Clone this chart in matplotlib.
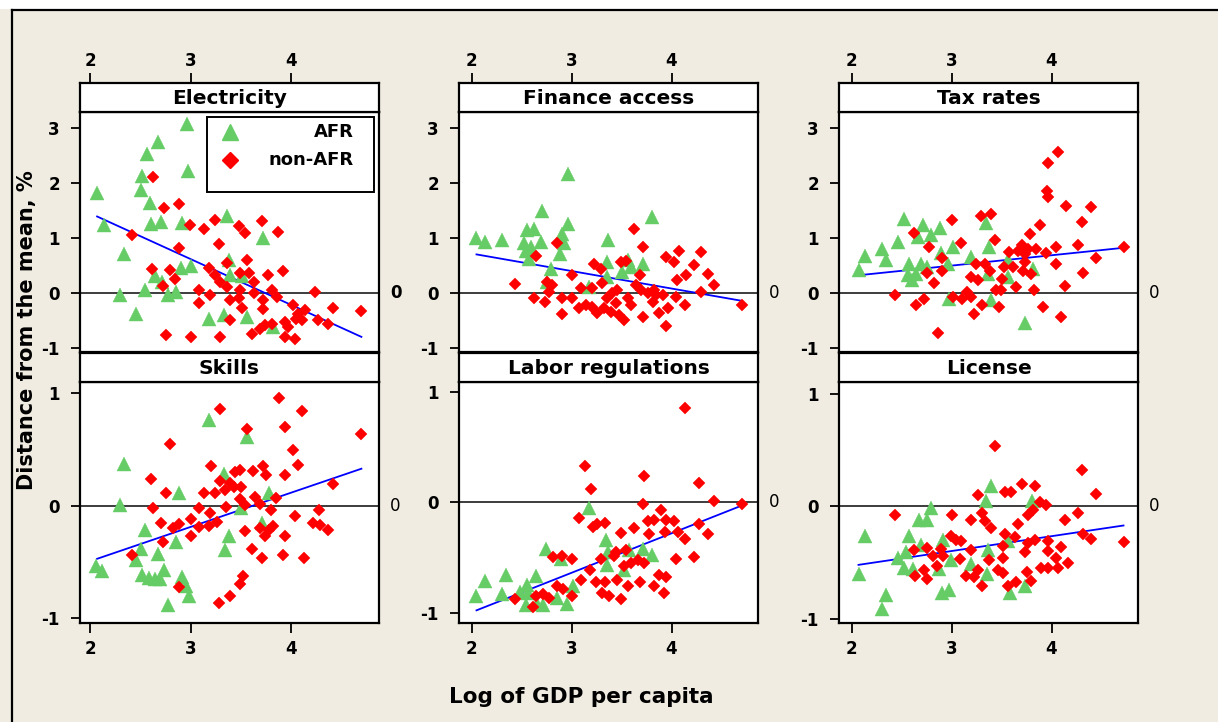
import matplotlib
matplotlib.use("Agg")
import matplotlib.pyplot as plt
from matplotlib.patches import Rectangle
from matplotlib.lines import Line2D

# ---------------- data ----------------
panel_titles = ["Electricity", "Finance access", "Tax rates",
                "Skills", "Labor regulations", "License"]
series_labels = ["AFR", "non-AFR"]
x_ticks = [2, 3, 4]
y_ticks_row1 = [-1, 0, 1, 2, 3]
y_ticks_row2 = [-1, 0, 1]
x_label = "Log of GDP per capita"
y_label = "Distance from the mean, %"

elec_afr = [(2.07,1.82),(2.14,1.25),(2.34,0.71),(2.30,-0.02),(2.46,-0.37),(2.51,1.88),(2.52,2.13),
            (2.57,2.54),(2.68,2.75),(2.60,1.64),(2.61,1.27),(2.71,1.30),(2.55,0.06),(2.65,0.32),
            (2.72,0.20),(2.78,-0.03),(2.86,0.02),(2.90,0.46),(2.91,1.28),(2.96,3.08),(2.97,2.23),
            (3.00,0.50),(3.18,-0.46),(3.33,-0.40),(3.36,1.40),(3.38,0.61),(3.39,0.34),(3.51,0.31),
            (3.56,-0.43),(3.72,1.01),(3.82,-0.61)]
elec_non = [(2.63,2.11),(2.42,1.07),(2.74,1.55),(2.89,1.62),(2.89,0.82),(2.99,1.24),(3.13,1.17),
            (3.24,1.34),(3.28,0.90),(3.36,0.56),(3.48,1.22),(3.54,1.10),(3.71,1.31),(3.87,1.11),
            (2.62,0.44),(2.80,0.43),(2.85,0.27),(2.73,0.14),(2.76,-0.76),(3.00,-0.79),(3.29,-0.79),
            (3.08,0.06),(3.08,-0.18),(3.19,-0.03),(3.18,0.46),(3.24,0.34),(3.29,0.21),(3.36,0.12),
            (3.39,-0.12),(3.49,0.06),(3.48,-0.09),(3.51,-0.27),(3.56,0.61),(3.58,0.37),(3.49,0.37),
            (3.63,0.21),(3.63,0.00),(3.39,-0.49),(3.61,-0.73),(3.69,-0.64),(3.74,-0.58),(3.81,-0.55),
            (3.72,-0.12),(3.72,-0.29),(3.77,0.34),(3.81,0.06),(3.86,-0.06),(3.92,0.40),(3.94,-0.52),
            (3.94,-0.79),(4.04,-0.82),(4.02,-0.21),(4.07,-0.37),(4.11,-0.49),(4.14,-0.31),(4.24,0.03),
            (4.27,-0.49),(4.37,-0.55),(4.42,-0.27),(4.70,-0.32),(3.97,-0.61),(4.05,-0.46)]
elec_fit = [(2.07,1.40),(4.70,-0.79)]

fin_afr = [(2.04,1.01),(2.13,0.94),(2.30,0.97),(2.52,0.92),(2.55,1.15),(2.62,1.18),(2.59,0.84),
           (2.69,0.94),(2.54,0.78),(2.57,0.63),(2.70,1.50),(2.79,0.45),(2.90,1.09),(2.88,0.72),
           (2.96,1.27),(2.96,2.17),(2.92,0.92),(2.75,0.21),(3.17,0.12),(3.36,0.97),(3.35,0.57),
           (3.35,0.30),(3.50,0.39),(3.59,0.48),(3.71,0.54),(3.80,1.39),(3.56,0.60)]
fin_non = [(2.43,0.17),(2.64,0.68),(2.85,0.91),(2.62,-0.08),(2.73,-0.15),(2.75,0.21),(2.80,0.15),
           (2.77,0.03),(2.90,-0.08),(2.90,-0.38),(3.00,0.33),(3.00,-0.08),(3.09,0.09),(3.07,-0.27),
           (3.14,-0.21),(3.20,0.09),(3.22,0.53),(3.29,0.45),(3.30,0.19),(3.25,-0.35),(3.20,-0.24),
           (3.32,-0.27),(3.35,-0.09),(3.40,0.00),(3.45,0.06),(3.44,-0.18),(3.39,-0.33),(3.47,-0.39),
           (3.52,-0.48),(3.56,-0.09),(3.59,-0.21),(3.49,0.57),(3.54,0.59),(3.62,1.18),(3.71,0.84),
           (3.68,0.34),(3.64,0.15),(3.69,0.06),(3.76,0.00),(3.81,-0.15),(3.71,-0.43),(3.84,-0.03),
           (3.91,-0.03),(3.87,-0.36),(3.96,-0.27),(3.94,-0.60),(3.94,0.66),(4.02,0.57),(4.07,0.77),
           (4.05,0.24),(4.14,0.33),(4.04,-0.07),(4.13,-0.21),(4.22,0.51),(4.29,0.75),(4.29,0.03),
           (4.36,0.36),(4.42,0.16),(4.70,-0.21),(3.82,0.06)]
fin_fit = [(2.05,0.71),(4.69,-0.13)]

tax_afr = [(2.07,0.43),(2.13,0.69),(2.30,0.80),(2.34,0.60),(2.46,0.94),(2.52,1.36),(2.57,0.54),
           (2.56,0.33),(2.60,0.24),(2.64,0.36),(2.66,1.03),(2.69,0.53),(2.71,1.25),(2.75,0.48),
           (2.79,1.06),(2.88,1.19),(2.89,0.74),(2.96,0.53),(3.01,0.84),(2.97,-0.11),(3.19,0.66),
           (3.34,1.29),(3.37,0.84),(3.36,0.36),(3.39,-0.12),(3.56,0.60),(3.73,-0.53),(3.81,0.45),
           (3.56,0.30)]
tax_non = [(2.43,-0.03),(2.62,1.10),(2.64,-0.21),(2.72,-0.11),(2.75,0.37),(2.77,0.84),(2.82,0.19),
           (2.86,-0.72),(2.90,0.65),(2.90,0.41),(3.00,1.33),(3.01,-0.07),(3.09,0.92),(3.10,-0.11),
           (3.15,0.03),(3.19,-0.07),(3.22,-0.37),(3.19,0.30),(3.26,0.24),(3.24,0.53),(3.29,1.40),
           (3.39,1.44),(3.30,-0.21),(3.33,0.54),(3.38,0.41),(3.43,0.98),(3.47,-0.25),(3.44,0.06),
           (3.49,0.06),(3.50,0.27),(3.52,0.48),(3.57,0.75),(3.61,0.48),(3.64,0.12),(3.70,0.88),
           (3.73,0.57),(3.71,0.41),(3.78,1.09),(3.76,0.81),(3.79,0.36),(3.82,0.07),(3.88,1.25),
           (3.84,0.81),(3.94,0.74),(3.91,-0.25),(3.96,2.38),(4.06,2.58),(3.95,1.86),(3.96,1.76),
           (4.04,0.84),(4.04,0.53),(4.09,-0.42),(4.14,1.59),(4.13,0.13),(4.26,0.88),(4.30,1.30),
           (4.31,0.37),(4.39,1.57),(4.44,0.65),(4.72,0.84),(3.66,0.77),(3.73,0.72)]
tax_fit = [(2.12,0.34),(4.72,0.83)]

skill_afr = [(2.06,-0.53),(2.12,-0.58),(2.34,0.37),(2.30,0.01),(2.46,-0.48),(2.51,-0.38),(2.55,-0.21),
             (2.52,-0.61),(2.59,-0.64),(2.65,-0.65),(2.70,-0.65),(2.74,-0.57),(2.68,-0.43),(2.78,-0.88),
             (2.86,-0.32),(2.89,0.11),(2.91,-0.63),(2.95,-0.71),(2.98,-0.80),(3.18,0.76),(3.33,0.28),
             (3.38,-0.27),(3.34,-0.39),(3.56,0.61),(3.50,-0.02),(3.71,-0.15),(3.78,0.11)]
skill_non = [(2.42,-0.44),(2.61,0.24),(2.63,-0.02),(2.71,-0.15),(2.73,-0.32),(2.76,0.11),(2.80,0.55),
             (2.83,-0.20),(2.89,-0.16),(2.89,-0.72),(3.00,-0.12),(3.00,-0.27),(3.08,-0.02),(3.08,-0.19),
             (3.13,0.11),(3.19,-0.06),(3.18,-0.18),(3.24,0.11),(3.26,-0.14),(3.29,0.86),(3.20,0.35),
             (3.29,0.22),(3.35,-0.01),(3.34,0.14),(3.39,0.20),(3.44,0.30),(3.43,0.17),(3.49,0.32),
             (3.50,0.17),(3.49,0.06),(3.54,0.01),(3.56,0.68),(3.54,-0.22),(3.52,-0.62),(3.49,-0.69),
             (3.39,-0.80),(3.28,-0.86),(3.61,-0.38),(3.62,0.31),(3.64,0.08),(3.69,0.02),(3.72,0.35),
             (3.75,0.27),(3.69,-0.20),(3.74,-0.27),(3.78,-0.21),(3.80,-0.04),(3.71,-0.46),(3.85,0.07),
             (3.88,0.96),(3.94,0.70),(3.94,0.27),(3.94,-0.27),(3.92,-0.44),(4.02,0.50),(4.07,0.36),
             (4.11,0.84),(4.04,-0.09),(4.13,-0.46),(4.22,-0.15),(4.28,-0.04),(4.29,-0.17),(4.37,-0.21),
             (4.42,0.19),(4.70,0.64),(3.82,-0.18)]
skill_fit = [(2.07,-0.47),(4.70,0.33)]

labor_afr = [(2.04,-0.85),(2.13,-0.71),(2.30,-0.83),(2.34,-0.66),(2.48,-0.81),(2.55,-0.75),(2.56,-0.82),
             (2.64,-0.67),(2.54,-0.93),(2.65,-0.92),(2.71,-0.93),(2.74,-0.42),(2.89,-0.51),(2.85,-0.87),
             (2.95,-0.92),(3.01,-0.76),(3.17,-0.05),(3.34,-0.34),(3.36,-0.45),(3.35,-0.57),(3.57,-0.43),
             (3.71,-0.42),(3.80,-0.48),(3.52,-0.61)]
labor_non = [(2.43,-0.88),(2.61,-0.95),(2.64,-0.85),(2.71,-0.83),(2.77,-0.87),(2.81,-0.50),(2.90,-0.49),
             (3.00,-0.51),(2.85,-0.76),(2.91,-0.79),(3.00,-0.85),(3.09,-0.70),(3.07,-0.14),(3.13,0.33),
             (3.19,0.12),(3.21,-0.22),(3.25,-0.20),(3.33,-0.19),(3.18,-0.61),(3.24,-0.72),(3.30,-0.82),
             (3.37,-0.85),(3.33,-0.72),(3.29,-0.51),(3.42,-0.49),(3.44,-0.45),(3.49,-0.88),(3.45,-0.70),
             (3.49,-0.28),(3.54,-0.43),(3.56,-0.76),(3.52,-0.58),(3.59,-0.55),(3.62,-0.23),(3.66,-0.52),
             (3.68,-0.72),(3.72,-0.55),(3.71,-0.01),(3.72,0.24),(3.76,-0.17),(3.77,-0.29),(3.82,-0.16),
             (3.82,-0.76),(3.87,-0.66),(3.92,-0.82),(3.89,-0.07),(3.94,-0.16),(3.94,-0.68),(3.93,-0.27),
             (4.02,-0.17),(4.06,-0.27),(4.13,-0.33),(4.04,-0.51),(4.13,0.86),(4.22,-0.50),(4.27,0.18),
             (4.27,-0.20),(4.36,-0.29),(4.42,0.01),(4.70,-0.01)]
labor_fit = [(2.05,-0.98),(4.67,-0.04)]

lic_afr = [(2.07,-0.60),(2.13,-0.26),(2.34,-0.79),(2.30,-0.91),(2.46,-0.46),(2.52,-0.55),(2.54,-0.41),
           (2.57,-0.26),(2.61,-0.56),(2.67,-0.12),(2.69,-0.34),(2.75,-0.12),(2.79,-0.01),(2.87,-0.56),
           (2.90,-0.77),(2.97,-0.74),(2.91,-0.30),(2.99,-0.48),(3.19,-0.51),(3.34,0.05),(3.39,0.18),
           (3.36,-0.39),(3.35,-0.60),(3.58,-0.77),(3.56,-0.31),(3.73,-0.71),(3.80,0.05)]
lic_non = [(2.43,-0.08),(2.62,-0.39),(2.63,-0.62),(2.72,-0.57),(2.75,-0.65),(2.75,-0.37),(2.81,-0.44),
           (2.85,-0.53),(2.89,-0.38),(2.91,-0.44),(3.00,-0.08),(2.99,-0.26),(3.04,-0.30),(3.09,-0.31),
           (3.08,-0.47),(3.14,-0.62),(3.22,-0.63),(3.26,-0.57),(3.19,-0.39),(3.19,-0.12),(3.26,0.10),
           (3.30,-0.06),(3.33,-0.13),(3.39,-0.19),(3.30,-0.71),(3.37,-0.48),(3.43,0.54),(3.46,-0.57),
           (3.51,-0.59),(3.51,-0.46),(3.51,-0.35),(3.53,-0.25),(3.53,0.13),(3.59,0.13),(3.63,-0.27),
           (3.66,-0.16),(3.56,-0.71),(3.64,-0.67),(3.70,0.20),(3.73,-0.41),(3.75,-0.58),(3.79,-0.66),
           (3.76,-0.33),(3.76,-0.08),(3.81,-0.03),(3.83,0.18),(3.83,-0.30),(3.88,0.04),(3.94,0.01),
           (3.89,-0.55),(3.96,-0.31),(3.96,-0.55),(3.96,-0.40),(4.04,-0.46),(4.06,-0.55),(4.09,-0.36),
           (4.13,-0.12),(4.16,-0.50),(4.26,-0.06),(4.30,0.32),(4.31,-0.25),(4.39,-0.29),(4.44,0.11),
           (4.72,-0.32)]
lic_fit = [(2.07,-0.52),(4.72,-0.17)]

panels_afr = [elec_afr, fin_afr, tax_afr, skill_afr, labor_afr, lic_afr]
panels_non = [elec_non, fin_non, tax_non, skill_non, labor_non, lic_non]
panels_fit = [elec_fit, fin_fit, tax_fit, skill_fit, labor_fit, lic_fit]

# ---------------- styling / layout ----------------
W, H = 1218, 722
BG = "#F0ECE2"
GREEN = "#66CC66"
RED = "#FF0000"
BLUE = "#0000FF"
plt.rcParams["font.family"] = ["DejaVu Sans"]
plt.rcParams["axes.unicode_minus"] = False

fig = plt.figure(figsize=(W / 100, H / 100), dpi=100)
fig.patch.set_facecolor(BG)

def rect(l, t, w, h):
    return [l / W, 1 - (t + h) / H, w / W, h / H]

# white strip at top and outer frame lines
fig.patches.append(Rectangle((0, 1 - 9 / H), 1, 9 / H, transform=fig.transFigure,
                             facecolor="white", edgecolor="none", zorder=0))
fig.add_artist(Line2D([12 / W, 1], [1 - 10 / H, 1 - 10 / H], color="black", lw=1.6,
                      transform=fig.transFigure))
fig.add_artist(Line2D([12 / W, 12 / W], [0, 1 - 10 / H], color="black", lw=1.6,
                      transform=fig.transFigure))

col_left = [80, 459, 839]
col_w = 299
col_xlim = [(1.90, 4.875), (1.875, 4.865), (1.875, 4.865)]
row_header = [(83, 29), (353, 29)]
row_plot = [(112, 240), (382, 241)]
panel_ylim = [(-1.065, 3.30), (-1.065, 3.30), (-1.065, 3.30),
              (-1.04, 1.10), (-1.095, 1.094), (-1.037, 1.106)]

SPW = 1.6
for i in range(6):
    r, c = divmod(i, 3)
    ax = fig.add_axes(rect(col_left[c], row_plot[r][0], col_w, row_plot[r][1]))
    hx = fig.add_axes(rect(col_left[c], row_header[r][0], col_w, row_header[r][1]))
    ax.set_facecolor("white")
    hx.set_facecolor("white")
    for a in (ax, hx):
        for s in a.spines.values():
            s.set_linewidth(SPW)
            s.set_color("black")
        a.set_xlim(*col_xlim[c])

    ax.axhline(0, color="#3C3C3C", lw=1.4, zorder=1)
    fx, fy = zip(*panels_fit[i])
    ax.plot(fx, fy, color=BLUE, lw=1.3, zorder=2)
    gx, gy = zip(*panels_afr[i])
    ax.plot(gx, gy, "^", color=GREEN, ms=9.5, mew=0.3, mec=GREEN, zorder=3,
            label=series_labels[0])
    rx, ry = zip(*panels_non[i])
    ax.plot(rx, ry, "D", color=RED, ms=6.6, mew=0.3, mec=RED, zorder=4,
            label=series_labels[1])
    ax.set_ylim(*panel_ylim[i])
    ax.set_yticks(y_ticks_row1 if r == 0 else y_ticks_row2)
    ax.tick_params(axis="y", direction="out", length=6.5, width=1.3, pad=8,
                   labelsize=12)
    for t in ax.get_yticklabels():
        t.set_fontweight("bold")

    ax.annotate("0", xy=(1, 0), xycoords=("axes fraction", "data"),
                xytext=(8, 0), textcoords="offset points", ha="left", va="center",
                fontsize=12, fontweight="bold" if i == 0 else "normal",
                annotation_clip=False)

    hx.set_ylim(0, 1)
    hx.set_yticks([])
    hx.text(0.5, 0.45, panel_titles[i], transform=hx.transAxes, ha="center",
            va="center", fontsize=14.5, fontweight="bold")
    if r == 0:
        ax.set_xticks([])
        hx.xaxis.tick_top()
        hx.set_xticks(x_ticks)
        hx.tick_params(axis="x", direction="out", length=7.5, width=1.3, pad=2,
                       labelsize=12)
        for t in hx.get_xticklabels():
            t.set_fontweight("bold")
    else:
        hx.set_xticks([])
        ax.set_xticks(x_ticks)
        ax.tick_params(axis="x", direction="out", length=7, width=1.3, pad=5,
                       labelsize=12)
        for t in ax.get_xticklabels():
            t.set_fontweight("bold")

    if i == 0:
        # legend box drawn in axes coordinates
        ax.add_patch(Rectangle((0.425, 0.667), 0.558, 0.312, transform=ax.transAxes,
                               facecolor="white", edgecolor="black", lw=1.4, zorder=5))
        ax.plot([0.502], [0.917], "^", color=GREEN, ms=11, transform=ax.transAxes,
                zorder=6, clip_on=False)
        ax.plot([0.502], [0.80], "D", color=RED, ms=7.8, transform=ax.transAxes,
                zorder=6, clip_on=False)
        ax.text(0.916, 0.917, series_labels[0], transform=ax.transAxes, ha="right",
                va="center", fontsize=13, fontweight="bold", zorder=6)
        ax.text(0.916, 0.80, series_labels[1], transform=ax.transAxes, ha="right",
                va="center", fontsize=13, fontweight="bold", zorder=6)

fig.text(581 / W, 1 - 697 / H, x_label, ha="center", va="center", fontsize=15.5,
         fontweight="bold")
fig.text(27 / W, 1 - 330 / H, y_label, ha="center", va="center", rotation=90,
         fontsize=15, fontweight="bold")

fig.savefig("out.png", dpi=100, facecolor=fig.get_facecolor())
